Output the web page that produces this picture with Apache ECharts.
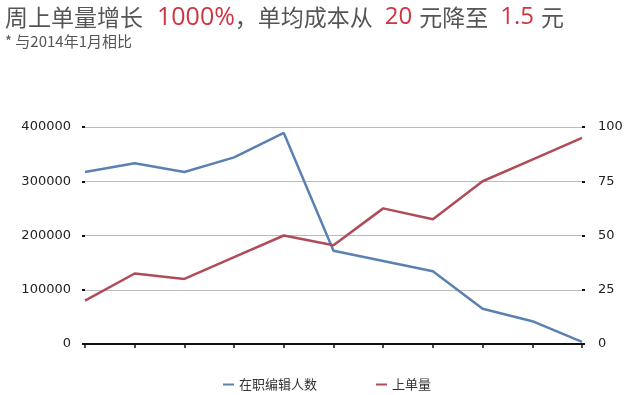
<!DOCTYPE html>
<html>
<head>
<meta charset="utf-8">
<script src="https://cdn.jsdelivr.net/npm/echarts@6/dist/echarts.min.js"></script>
<style>html,body{margin:0;padding:0;background:#fff}#c{width:634px;height:395px}</style>
</head>
<body>
<div id="c"></div>
<script>
var categories = ['1','2','3','4','5','6','7','8','9','10','11'];
var editorCount = [317000, 333000, 317000, 344000, 389000, 172000, 153000, 134000, 65000, 42000, 4000];
var orderVolume = [20, 32.5, 30, 40, 50, 45.5, 62.5, 57.5, 75, 85, 95];
var leftTicks = [0, 100000, 200000, 300000, 400000];
var rightTicks = [0, 25, 50, 75, 100];
var seriesNames = ['在职编辑人数', '上单量'];

var chart = echarts.init(document.getElementById('c'));
var numFont = 'DejaVu Sans, sans-serif';
var cjkFont = '"Noto Sans CJK SC", sans-serif';
chart.setOption({
  animation: false,
  backgroundColor: '#fff',
  title: {
    left: 0, top: 0,
    text: '{g|周上单量增长}{p|1000%}{g|，单均成本从}{r|20}{g|元降至}{r|1.5}{g|元}',
    subtext: '{s|* 与2014年1月相比}',
    itemGap: 4,
    textStyle: {
      fontWeight: 'normal',
      rich: {
        g: {fontSize: 23, color: '#555', fontFamily: cjkFont, fontWeight: 'normal'},
        p: {fontSize: 25, color: '#cf3440', fontFamily: '"Open Sans", sans-serif', fontWeight: 'normal', padding: [0, 0, 0, 14]},
        r: {fontSize: 24, color: '#cf3440', fontFamily: '"Open Sans", sans-serif', fontWeight: 'normal', padding: [0, 7, 0, 12]}
      }
    },
    subtextStyle: {
      rich: {s: {fontSize: 15, color: '#555', fontFamily: cjkFont}}
    }
  },
  grid: {left: 85, right: 52, top: 127, bottom: 51, containLabel: false},
  legend: {
    data: seriesNames,
    left: 218, top: 373,
    icon: 'rect', itemWidth: 11, itemHeight: 2, itemGap: 59,
    textStyle: {fontSize: 13, color: '#333', fontFamily: cjkFont}
  },
  xAxis: {
    type: 'category', data: categories, boundaryGap: false,
    axisLine: {lineStyle: {color: '#111', width: 2}},
    axisTick: {show: true, length: 4, alignWithLabel: true, lineStyle: {color: '#111', width: 1.5}},
    axisLabel: {show: false},
    splitLine: {show: false}
  },
  yAxis: [{
    type: 'value', min: leftTicks[0], max: leftTicks[leftTicks.length-1], interval: leftTicks[1]-leftTicks[0],
    axisLine: {show: false},
    axisTick: {show: true, length: 3, lineStyle: {color: '#111', width: 2}},
    axisLabel: {fontSize: 13, color: '#222', fontFamily: numFont, margin: 14, formatter: function (v) { return String(v); }},
    splitLine: {lineStyle: {color: '#bbb', width: 1}}
  }, {
    type: 'value', min: rightTicks[0], max: rightTicks[rightTicks.length-1], interval: rightTicks[1]-rightTicks[0],
    position: 'right',
    axisLine: {show: false},
    axisTick: {show: true, length: 3, lineStyle: {color: '#111', width: 2}},
    axisLabel: {fontSize: 13, color: '#222', fontFamily: numFont, margin: 16, formatter: function (v) { return String(v); }},
    splitLine: {show: false}
  }],
  series: [{
    name: seriesNames[0], type: 'line', data: editorCount, yAxisIndex: 0,
    symbol: 'none', lineStyle: {color: '#5b80b2', width: 2.5}, itemStyle: {color: '#5b80b2'}
  }, {
    name: seriesNames[1], type: 'line', data: orderVolume, yAxisIndex: 1,
    symbol: 'none', lineStyle: {color: '#b04c59', width: 2.5}, itemStyle: {color: '#b04c59'}
  }]
});
</script>
</body>
</html>
